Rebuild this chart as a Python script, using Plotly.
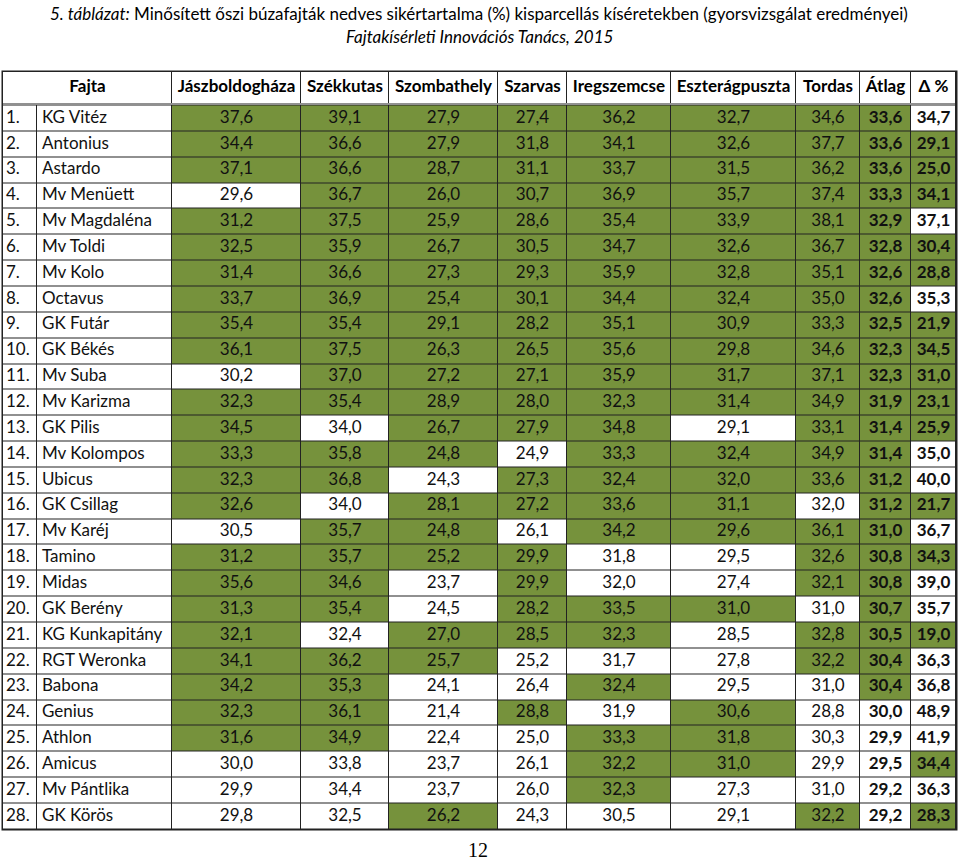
import plotly.graph_objects as go

# Minősített őszi búzafajták nedves sikértartalma (%), 2015
fajtak = ["KG Vitéz", "Antonius", "Astardo", "Mv Menüett", "Mv Magdaléna", "Mv Toldi", "Mv Kolo",
          "Octavus", "GK Futár", "GK Békés", "Mv Suba", "Mv Karizma", "GK Pilis", "Mv Kolompos",
          "Ubicus", "GK Csillag", "Mv Karéj", "Tamino", "Midas", "GK Berény", "KG Kunkapitány",
          "RGT Weronka", "Babona", "Genius", "Athlon", "Amicus", "Mv Pántlika", "GK Körös"]

jaszboldoghaza = [37.6, 34.4, 37.1, 29.6, 31.2, 32.5, 31.4, 33.7, 35.4, 36.1, 30.2, 32.3, 34.5, 33.3,
                  32.3, 32.6, 30.5, 31.2, 35.6, 31.3, 32.1, 34.1, 34.2, 32.3, 31.6, 30.0, 29.9, 29.8]
szekkutas = [39.1, 36.6, 36.6, 36.7, 37.5, 35.9, 36.6, 36.9, 35.4, 37.5, 37.0, 35.4, 34.0, 35.8,
             36.8, 34.0, 35.7, 35.7, 34.6, 35.4, 32.4, 36.2, 35.3, 36.1, 34.9, 33.8, 34.4, 32.5]
szombathely = [27.9, 27.9, 28.7, 26.0, 25.9, 26.7, 27.3, 25.4, 29.1, 26.3, 27.2, 28.9, 26.7, 24.8,
               24.3, 28.1, 24.8, 25.2, 23.7, 24.5, 27.0, 25.7, 24.1, 21.4, 22.4, 23.7, 23.7, 26.2]
szarvas = [27.4, 31.8, 31.1, 30.7, 28.6, 30.5, 29.3, 30.1, 28.2, 26.5, 27.1, 28.0, 27.9, 24.9,
           27.3, 27.2, 26.1, 29.9, 29.9, 28.2, 28.5, 25.2, 26.4, 28.8, 25.0, 26.1, 26.0, 24.3]
iregszemcse = [36.2, 34.1, 33.7, 36.9, 35.4, 34.7, 35.9, 34.4, 35.1, 35.6, 35.9, 32.3, 34.8, 33.3,
               32.4, 33.6, 34.2, 31.8, 32.0, 33.5, 32.3, 31.7, 32.4, 31.9, 33.3, 32.2, 32.3, 30.5]
eszteragpuszta = [32.7, 32.6, 31.5, 35.7, 33.9, 32.6, 32.8, 32.4, 30.9, 29.8, 31.7, 31.4, 29.1, 32.4,
                  32.0, 31.1, 29.6, 29.5, 27.4, 31.0, 28.5, 27.8, 29.5, 30.6, 31.8, 31.0, 27.3, 29.1]
tordas = [34.6, 37.7, 36.2, 37.4, 38.1, 36.7, 35.1, 35.0, 33.3, 34.6, 37.1, 34.9, 33.1, 34.9,
          33.6, 32.0, 36.1, 32.6, 32.1, 31.0, 32.8, 32.2, 31.0, 28.8, 30.3, 29.9, 31.0, 32.2]
atlag = [33.6, 33.6, 33.6, 33.3, 32.9, 32.8, 32.6, 32.6, 32.5, 32.3, 32.3, 31.9, 31.4, 31.4,
         31.2, 31.2, 31.0, 30.8, 30.8, 30.7, 30.5, 30.4, 30.4, 30.0, 29.9, 29.5, 29.2, 29.2]
delta = [34.7, 29.1, 25.0, 34.1, 37.1, 30.4, 28.8, 35.3, 21.9, 34.5, 31.0, 23.1, 25.9, 35.0,
         40.0, 21.7, 36.7, 34.3, 39.0, 35.7, 19.0, 36.3, 36.8, 48.9, 41.9, 34.4, 36.3, 28.3]

helyek = ["Jászboldogháza", "Székkutas", "Szombathely", "Szarvas", "Iregszemcse",
          "Eszterágpuszta", "Tordas", "Átlag", "Δ %"]
oszlopok = [jaszboldoghaza, szekkutas, szombathely, szarvas, iregszemcse,
            eszteragpuszta, tordas, atlag, delta]
# minősítési határ oszloponként (Δ %-nál a kisebb a jobb)
hatar = [31.0, 34.5, 24.7, 26.5, 32.1, 29.6, 32.1, 30.4, 34.5]

ZOLD = "#76923C"
VONAL = "#222222"
FONT = "Lato"
W, H = 959, 860

# táblázat geometriája (pixelben)
col_edges = [3, 37, 172, 301, 389, 498, 567, 671, 796, 860, 911, 956]
head_top, head_bot = 72, 103.5
body_top, row_h = 105.5, 25.85
n = len(fajtak)
row_edges = [body_top + i * row_h for i in range(n + 1)]
row_mid = [body_top + (i + 0.5) * row_h for i in range(n)]
col_mid = [(a + b) / 2 for a, b in zip(col_edges[2:-1], col_edges[3:])]


def fmt(v, bold=False):
    s = f"{v:.1f}".replace(".", ",")
    return f"<b>{s}</b>" if bold else s


# zöld = minősített
minosites = []
for i, (col, h) in enumerate(zip(oszlopok, hatar)):
    if i == 8:
        minosites.append([1 if v <= h else 0 for v in col])
    else:
        minosites.append([1 if v >= h else 0 for v in col])
z_body = [[0, 0] + [minosites[c][r] for c in range(9)] for r in range(n)]

scale = [[0, "white"], [1, ZOLD]]
fig = go.Figure()

# vonalak háttere
fig.add_trace(go.Heatmap(
    x=[1.5, 957.5], y=[70.5, row_edges[-1] + 1.5], z=[[1]],
    colorscale=[[0, VONAL], [1, VONAL]], showscale=False, hoverinfo="skip",
))
# fejléc
fig.add_trace(go.Heatmap(
    x=[col_edges[0]] + col_edges[2:], y=[head_top, head_bot], z=[[0] * 10],
    colorscale=scale, zmin=0, zmax=1, xgap=1, ygap=1, showscale=False, hoverinfo="skip",
))
# dupla vonal közti fehér sáv
fig.add_trace(go.Heatmap(
    x=[col_edges[0], col_edges[-1]], y=[head_bot, body_top], z=[[0]],
    colorscale=scale, zmin=0, zmax=1, xgap=1, ygap=1, showscale=False, hoverinfo="skip",
))
# adatsorok
fig.add_trace(go.Heatmap(
    x=col_edges, y=row_edges, z=z_body,
    colorscale=scale, zmin=0, zmax=1, xgap=1, ygap=1, showscale=False, hoverinfo="skip",
))

font_cell = dict(family=FONT, size=17, color="#111111")

# fejléc szövegei
head_x = [(col_edges[0] + col_edges[2]) / 2] + col_mid
fig.add_trace(go.Scatter(
    x=head_x, y=[(head_top + head_bot) / 2] * 10, mode="text",
    text=["<b>Fajta</b>"] + [f"<b>{h}</b>" for h in helyek],
    textposition="middle center", textfont=dict(family=FONT, size=17, color="black"),
    hoverinfo="skip", cliponaxis=False,
))
# sorszám és fajtanév
fig.add_trace(go.Scatter(
    x=[col_edges[0] + 3] * n, y=row_mid, mode="text",
    text=[f"{i}." for i in range(1, n + 1)],
    textposition="middle right", textfont=font_cell, hoverinfo="skip", cliponaxis=False,
))
fig.add_trace(go.Scatter(
    x=[col_edges[1] + 5] * n, y=row_mid, mode="text", text=fajtak,
    textposition="middle right", textfont=font_cell, hoverinfo="skip", cliponaxis=False,
))
# értékek
for i, col in enumerate(oszlopok):
    fig.add_trace(go.Scatter(
        x=[col_mid[i]] * n, y=row_mid, mode="text",
        text=[fmt(v, i >= 7) for v in col],
        textposition="middle center", textfont=font_cell, hoverinfo="skip", cliponaxis=False,
    ))

fig.add_annotation(
    text="<i>5. táblázat:</i> Minősített őszi búzafajták nedves sikértartalma (%) "
         "kisparcellás kíséretekben (gyorsvizsgálat eredményei)",
    x=479, y=13, showarrow=False, xanchor="center", yanchor="middle",
    font=dict(family=FONT, size=17, color="black"),
)
fig.add_annotation(
    text="<i>Fajtakísérleti Innovációs Tanács, 2015</i>",
    x=479, y=36, showarrow=False, xanchor="center", yanchor="middle",
    font=dict(family=FONT, size=17, color="black"),
)
fig.add_annotation(
    text="12", x=478, y=850, showarrow=False, xanchor="center", yanchor="middle",
    font=dict(family="Liberation Serif", size=20, color="black"),
)

fig.update_layout(
    width=W, height=H,
    margin=dict(l=0, r=0, t=0, b=0),
    paper_bgcolor="white",
    plot_bgcolor="white",
    showlegend=False,
    xaxis=dict(range=[0, W], visible=False, fixedrange=True),
    yaxis=dict(range=[H, 0], visible=False, fixedrange=True),
)

fig.write_html("out.html", config={"displayModeBar": False},
               post_script="document.body.style.margin = '0px';")
